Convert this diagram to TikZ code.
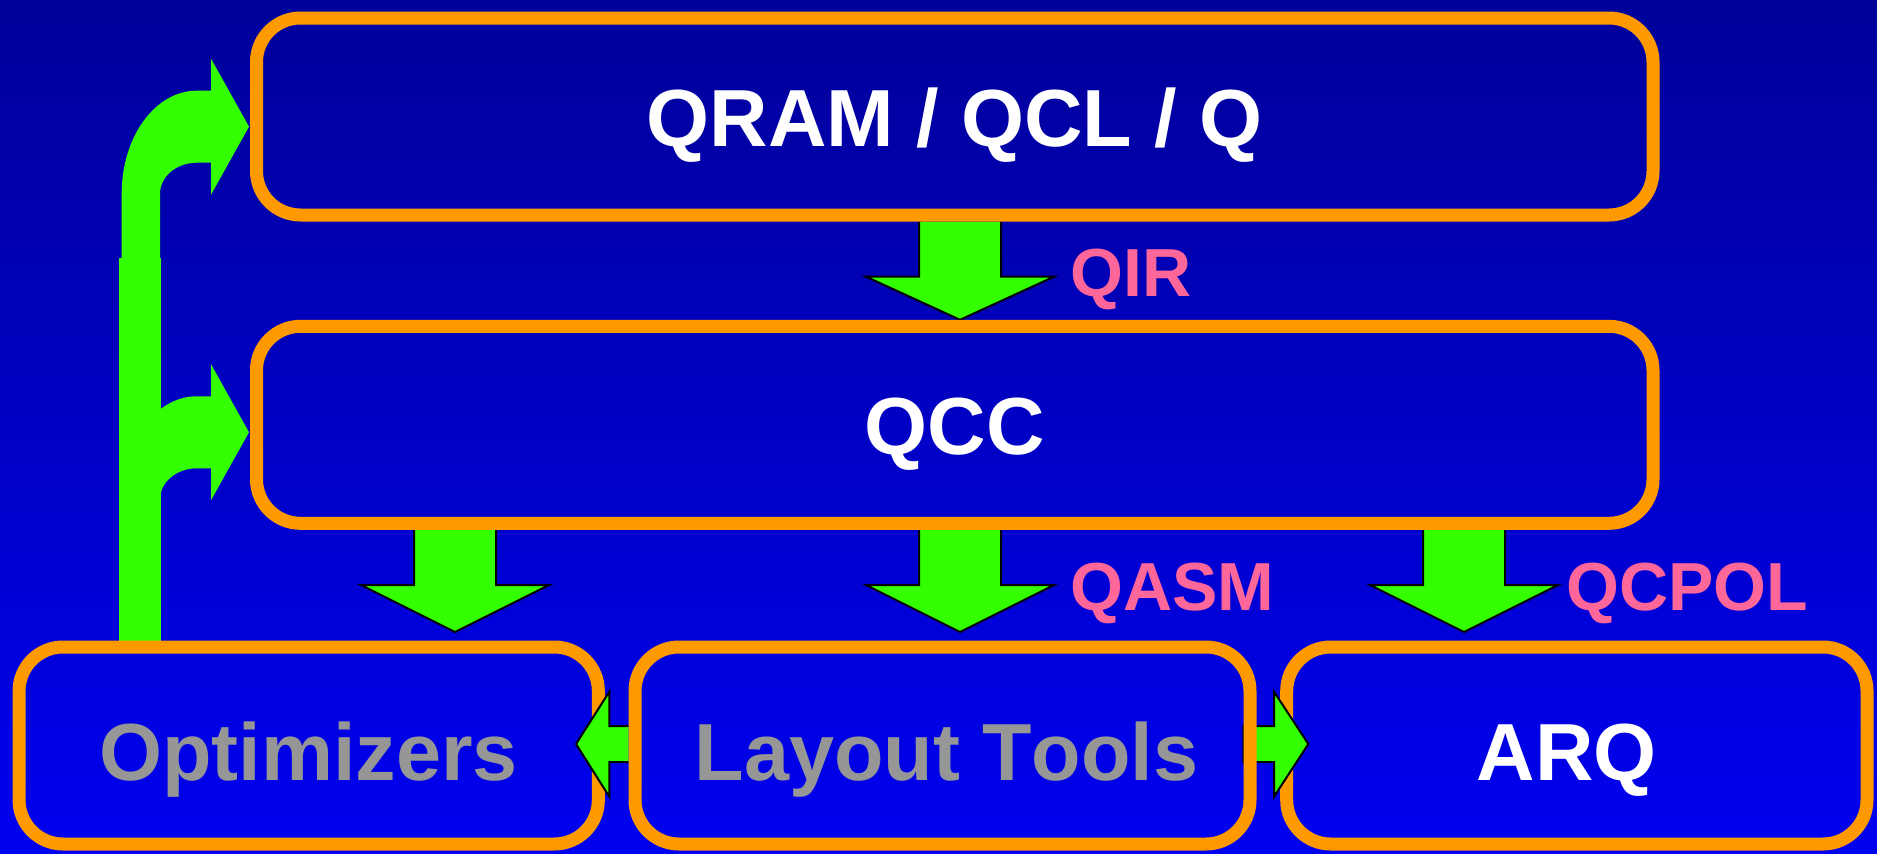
\documentclass[tikz,border=0pt]{standalone}
\usepackage{fontspec}
\setmainfont{Liberation Sans}[Kerning=Off]
\definecolor{bgtop}{RGB}{0,0,153}
\definecolor{bgbot}{RGB}{0,0,240}
\definecolor{boxorange}{RGB}{255,153,0}
\definecolor{arrgreen}{RGB}{51,255,0}
\definecolor{lblpink}{RGB}{255,102,153}
\definecolor{txtgray}{RGB}{150,150,150}
\pgfdeclarelayer{bg}
\pgfdeclarelayer{low}
\pgfdeclarelayer{top}
\pgfsetlayers{bg,low,main,top}
\tikzset{
  bent/.pic={
    \fill[arrgreen] (-127.3,135) -- (-127.3,66.9)
      arc[start angle=180,end angle=90,x radius=75pt,y radius=102.9pt]
      -- (-38,-36) -- (-38,-68) -- (0,0) -- (-38,68) -- (-38,36) -- (-52.3,36)
      arc[start angle=90,end angle=180,x radius=36.7pt,y radius=31pt]
      -- (-89,135) -- cycle;
  }
}
\begin{document}
\begin{tikzpicture}[x=1pt,y=-1pt,
  box/.style={draw=boxorange, line width=13pt, rounded corners=44pt, minimum height=197pt, inner sep=0pt},
  maintext/.style={font=\fontsize{81}{90}\selectfont\bfseries, text=white, inner sep=0pt, anchor=base},
  graytext/.style={maintext, text=txtgray},
  lbl/.style={font=\fontsize{68}{80}\selectfont\bfseries, text=lblpink, inner sep=0pt, anchor=base west},
  blockarrow/.style={fill=arrgreen, draw=black, line width=2pt, line join=miter},
]
\useasboundingbox (0,0) rectangle (1877,854);
\begin{pgfonlayer}{bg}
  \shade[top color=bgtop, bottom color=bgbot] (0,0) rectangle (1877,854);
\end{pgfonlayer}

% boxes
\node[box, minimum width=1396.5pt] (top) at (954.75,116.5) {};
\node[box, minimum width=1396.5pt] (qcc) at (954.75,424.8) {};
\node[box, minimum width=579.3pt] (opt) at (308.7,745.5) {};
\node[box, minimum width=580.3pt] (arq) at (1576.85,745.5) {};
\begin{pgfonlayer}{top}
  \node[box, minimum width=615pt] (lay) at (942.5,745.5) {};
\end{pgfonlayer}

% box texts
\node[maintext] (tq) at ([yshift=-29.5pt]top.center) {QRAM / QCL / Q};
\node[maintext] (tc) at ([yshift=-30pt]qcc.center) {QCC};
\node[graytext] (to) at ([yshift=-34.5pt]opt.center) {Optimizers};
\node[graytext] (tl) at ([xshift=4pt,yshift=-34.5pt]lay.center) {Layout Tools};
\node[maintext] (ta) at ([xshift=-10pt,yshift=-34.5pt]arq.center) {ARQ};

% labels
\node[lbl] (lqir) at (1070,296.7) {QIR};
\node[lbl] (lqasm) at (1070,610.7) {QASM};
\node[lbl] (lqcpol) at (1566,610.7) {QCPOL};

% down arrows and feedback arrows (under the boxes)
\begin{pgfonlayer}{low}
  \filldraw[blockarrow] (919,0 |- top.south) -- (919,276.7) -- (866,276.7) -- (960,0 |- qcc.north)
     -- (1054,276.7) -- (1001,276.7) -- (1001,0 |- top.south);
  \filldraw[blockarrow] (414,0 |- qcc.south) -- (414,585) -- (361,585) -- (455,632)
     -- (549,585) -- (496,585) -- (496,0 |- qcc.south);
  \filldraw[blockarrow] (919,0 |- qcc.south) -- (919,585) -- (866,585) -- (960,632)
     -- (1054,585) -- (1001,585) -- (1001,0 |- qcc.south);
  \filldraw[blockarrow] (1423,0 |- qcc.south) -- (1423,585) -- (1370,585) -- (1464,632)
     -- (1558,585) -- (1505,585) -- (1505,0 |- qcc.south);
  \fill[arrgreen] (119,0 |- opt.north) rectangle (161,258);
  \pic at ([xshift=-1pt,yshift=-10.2pt]top.west) {bent};
  \pic at ([xshift=-1pt,yshift=-7.5pt]qcc.west) {bent};
\end{pgfonlayer}

% side arrows between the bottom boxes
\filldraw[blockarrow] (lay.west |- 0,726) -- (609.3,726) -- (609.3,691.7) -- (576,744)
   -- (609.3,796.7) -- (609.3,762) -- (lay.west |- 0,762);
\filldraw[blockarrow] (1243.3,726) -- (1274,726) -- (1274,691.7) -- (1308.3,744)
   -- (1274,796.7) -- (1274,762) -- (1243.3,762) -- cycle;
\end{tikzpicture}
\end{document}
